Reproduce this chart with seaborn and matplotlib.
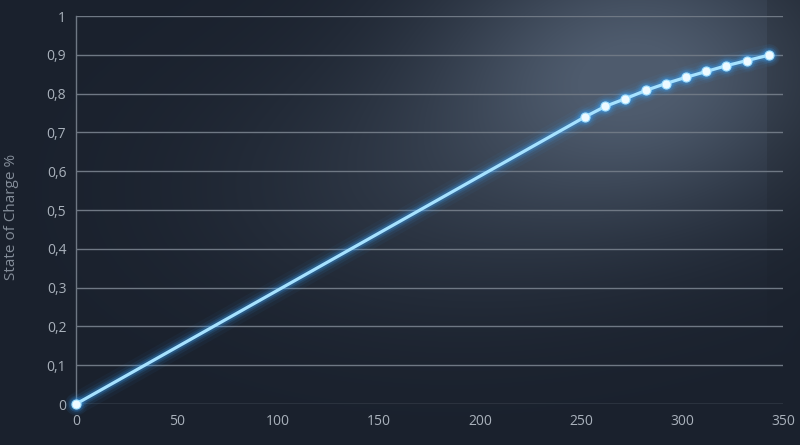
import numpy as np
import pandas as pd
import matplotlib
matplotlib.use("Agg")
import matplotlib.pyplot as plt
from matplotlib.ticker import FuncFormatter
import seaborn as sns

# dados
tempo = [0, 252, 262, 272, 282, 292, 302, 312, 322, 332, 343]
soc = [0.0, 0.74, 0.767, 0.787, 0.808, 0.826, 0.842, 0.857, 0.872, 0.885, 0.899]
x_ticks = [0, 50, 100, 150, 200, 250, 300, 350]
y_ticks = [0, 0.1, 0.2, 0.3, 0.4, 0.5, 0.6, 0.7, 0.8, 0.9, 1.0]

df = pd.DataFrame({"tempo": tempo, "soc": soc})

sns.set_style("dark")
plt.rcParams['font.family'] = ['Open Sans', 'DejaVu Sans']

W, H = 800, 445
fig = plt.figure(figsize=(8, 4.45), dpi=100)

# fundo com brilho radial
bg = fig.add_axes([0, 0, 1, 1], zorder=-10)
yy, xx = np.mgrid[0:H, 0:W]
base = np.array([0x1a, 0x21, 0x2d]) / 255
luz = np.array([0x4e, 0x5b, 0x6d]) / 255
g = np.exp(-(((xx - 640) / 200) ** 2 + ((yy - 70) / 140) ** 2))
g2 = 0.3 * np.exp(-(((xx - 430) / 230) ** 2 + ((yy - 190) / 130) ** 2))
t = np.clip(g + g2, 0, 1)[..., None]
img = base * (1 - t) + luz * t
escuro = np.where(xx >= 767, 0.88 + 0.12 * np.clip((yy - 150) / 200, 0, 1), 1.0)
img = img * escuro[..., None]
bg.imshow(img, aspect="auto", extent=[0, 1, 0, 1], origin="upper")
bg.axis("off")

ax = fig.add_axes([76 / W, 41 / H, 707 / W, 388 / H])
ax.set_facecolor("none")

# brilho da linha
for lw, a in [(16, 0.045), (11, 0.08), (7.5, 0.13), (5, 0.22)]:
    ax.plot(df["tempo"], df["soc"], color="#3aa6ff", lw=lw, alpha=a,
            solid_capstyle="round", zorder=3, clip_on=False)
    ax.scatter(df["tempo"], df["soc"], s=lw * 16, color="#3aa6ff", alpha=a,
               lw=0, zorder=3, clip_on=False)
sns.lineplot(data=df, x="tempo", y="soc", color="#a6e2ff", lw=2.3, ax=ax,
             marker="o", markersize=6.5, markerfacecolor="#eefaff",
             markeredgecolor="#a6e2ff", markeredgewidth=0.8, zorder=5,
             clip_on=False)

ax.set_xlim(0, 350)
ax.set_ylim(0, 1)
ax.set_xticks(x_ticks)
ax.set_yticks(y_ticks)
ax.yaxis.set_major_formatter(FuncFormatter(lambda v, p: ("%g" % round(v, 1)).replace(".", ",")))
ax.grid(axis="y", color="#6f7884", lw=1.0)
ax.grid(axis="x", visible=False)
for s in ["top", "right", "bottom"]:
    ax.spines[s].set_visible(False)
ax.spines["left"].set_color("#6f7884")
ax.spines["left"].set_linewidth(1.0)
ax.tick_params(colors="#a9b1bb", labelsize=10, length=0, pad=7)
ax.set_xlabel("")
ax.set_ylabel("State of Charge %", color="#848d99", fontsize=11)
ax.yaxis.set_label_coords(-0.08, 0.482)

fig.savefig("out.png", dpi=100)
